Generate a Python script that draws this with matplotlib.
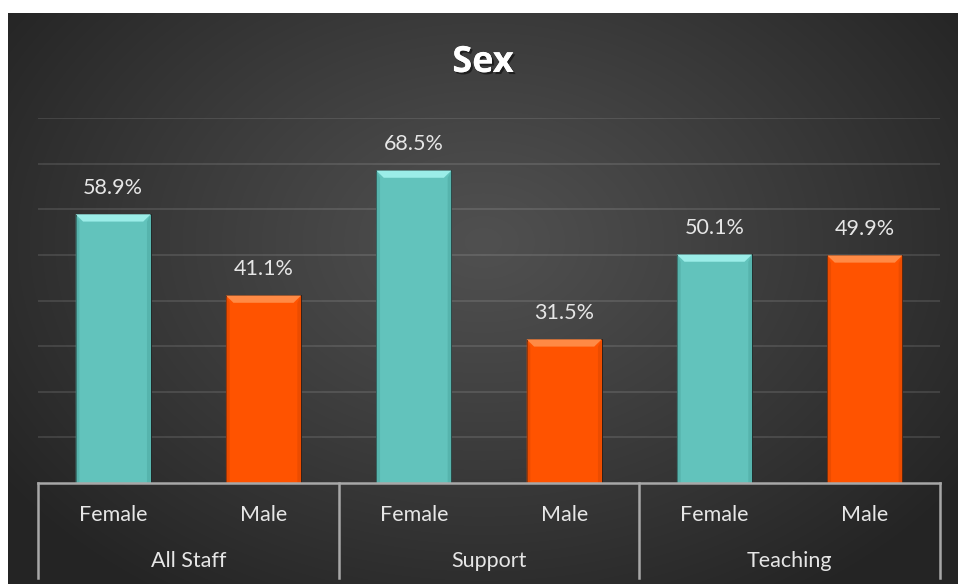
import numpy as np
import matplotlib
matplotlib.use("Agg")
import matplotlib.pyplot as plt
from matplotlib.patches import Polygon
import matplotlib.patheffects as pe

groups = ["All Staff", "Support", "Teaching"]
sexes = ["Female", "Male"]
values = [58.9, 41.1, 68.5, 31.5, 50.1, 49.9]
labels = ["58.9%", "41.1%", "68.5%", "31.5%", "50.1%", "49.9%"]
title = "Sex"

W, H = 958, 584
fig = plt.figure(figsize=(W / 100, H / 100), dpi=100)
fig.patch.set_facecolor("white")

# background panel with radial gradient
bx0, by0 = 8, 13
bg = fig.add_axes([bx0 / W, 0, (W - bx0) / W, (H - by0) / H])
bg.set_axis_off()
yy, xx = np.mgrid[0:H - by0, 0:W - bx0]
cx, cy = (W - bx0) / 2, (H - by0) * 0.40
r = np.sqrt(((xx - cx) / ((W - bx0) * 0.62)) ** 2 + ((yy - cy) / ((H - by0) * 0.75)) ** 2)
r = np.clip(r, 0, 1)
inner, outer = 0x50 / 255, 0x24 / 255
img = inner + (outer - inner) * r ** 1.1
bg.imshow(np.dstack([img, img, img]), aspect="auto", extent=[0, 1, 0, 1], origin="upper")
bg.set_xlim(0, 1); bg.set_ylim(0, 1)

# main axes
L, R, B, T = 38, 940, 483, 118
ax = fig.add_axes([L / W, (H - B) / H, (R - L) / W, (B - T) / H])
ax.set_facecolor("none")
ax.set_xlim(0, 6)
ax.set_ylim(0, 80)
for s in ax.spines.values():
    s.set_visible(False)
ax.set_xticks([]); ax.set_yticks([])
for g in range(10, 90, 10):
    ax.axhline(g, color="white", alpha=0.13, lw=1.2, zorder=0)

teal, teal_top, teal_side = "#62C3BC", "#9BEDE8", "#4FAAA3"
orng, orng_top, orng_side = "#FF5300", "#FF8A45", "#E04800"
bw = 0.5
xs = np.arange(6) + 0.5
for i, (x, v) in enumerate(zip(xs, values)):
    c, ct, cs = (teal, teal_top, teal_side) if i % 2 == 0 else (orng, orng_top, orng_side)
    ax.bar(x, v, width=bw, color=c, edgecolor="#1a1a1a", linewidth=0.6, zorder=2)
    x0, x1 = x - bw / 2, x + bw / 2
    dx = 0.05
    dy = 1.6
    ax.add_patch(Polygon([[x0, v], [x1, v], [x1 - dx, v - dy], [x0 + dx, v - dy]],
                         closed=True, color=ct, zorder=3, lw=0))
    ax.add_patch(Polygon([[x0, v], [x0 + dx * 0.5, v - dy], [x0 + dx * 0.5, 0], [x0, 0]],
                         closed=True, color=cs, zorder=3, lw=0, alpha=0.6))
    ax.add_patch(Polygon([[x1, v], [x1 - dx * 0.5, v - dy], [x1 - dx * 0.5, 0], [x1, 0]],
                         closed=True, color=cs, zorder=3, lw=0, alpha=0.6))
    ax.annotate(labels[i], (x, v), xytext=(0, 19), textcoords="offset points",
                ha="center", va="center", color="#E6E6E6", fontsize=15.5, family="Lato")

# multi-level category axis
lc = "#A8A8A8"
trans = ax.get_xaxis_transform()
ax.plot([0, 6], [0, 0], color=lc, lw=1.8, transform=trans, clip_on=False, zorder=4)
drop = (578 - B) / (B - T)
for xb in [0, 2, 4, 6]:
    ax.plot([xb, xb], [0, -drop], color=lc, lw=1.8, transform=trans, clip_on=False)
sub_y = -(515 - B) / (B - T)
grp_y = -(561 - B) / (B - T)
for i, x in enumerate(xs):
    ax.text(x, sub_y, sexes[i % 2], transform=trans, ha="center", va="center",
            color="#E6E6E6", fontsize=15.5, family="Lato")
for j, g in enumerate(groups):
    ax.text(2 * j + 1, grp_y, g, transform=trans, ha="center", va="center",
            color="#E6E6E6", fontsize=15.5, family="Lato")

fig.text((bx0 + W) / 2 / W, 1 - 63 / H, title, ha="center", va="center",
         color="white", fontsize=26, fontweight="bold", family="Open Sans",
         path_effects=[pe.withSimplePatchShadow(offset=(1.5, -1.5), shadow_rgbFace="black", alpha=0.5),
                       pe.Normal()])

fig.savefig("out.png", dpi=100, facecolor=fig.get_facecolor())
